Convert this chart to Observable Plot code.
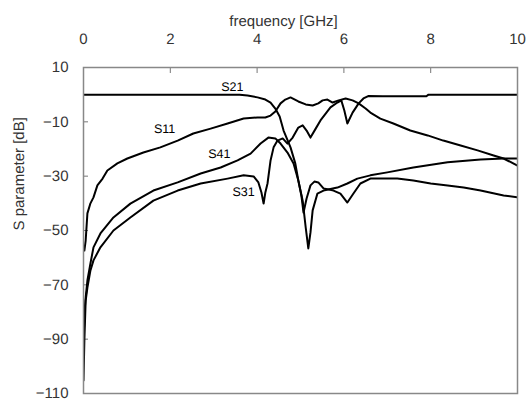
<!DOCTYPE html>
<html>
<head>
<meta charset="utf-8">
<script src="https://cdn.jsdelivr.net/npm/d3@7"></script>
<script src="https://cdn.jsdelivr.net/npm/@observablehq/plot@0.6"></script>
<style>
  html, body { margin: 0; padding: 0; background: #fff; }
  #chart { width: 527px; height: 407px; }
  svg text { -webkit-font-smoothing: antialiased; text-rendering: geometricPrecision; }
</style>
</head>
<body>
<div id="chart"></div>
<script>
// ---- data (frequency in GHz, level in dB) ----
const s21F  = [0, 1, 2, 3, 3.6, 3.78, 4.01, 4.19, 4.31, 4.42, 4.52, 4.61, 4.77, 4.88, 4.95, 5.02, 5.07, 5.14, 5.23, 5.32, 5.41, 5.53, 5.76, 5.92, 6.08, 6.22, 6.38, 6.61, 6.96, 7.23, 7.6, 8.0, 8.39, 8.76, 9.15, 9.68, 10];
const s21DB = [0, 0, 0, 0, 0, -0.3, -1.0, -1.8, -2.9, -5.1, -8.0, -13.2, -19.4, -25.3, -31.6, -37.1, -43.4, -38.2, -33.4, -32.0, -32.3, -34.5, -35.3, -36.4, -39.7, -36.4, -32.7, -30.9, -30.9, -30.9, -31.6, -32.7, -33.4, -34.2, -35.3, -37.1, -37.8];

const s11F  = [0.02, 0.05, 0.09, 0.16, 0.23, 0.32, 0.44, 0.55, 0.78, 1.01, 1.38, 1.77, 2.17, 2.53, 2.93, 3.32, 3.69, 4.01, 4.19, 4.31, 4.42, 4.54, 4.65, 4.77, 4.95, 5.12, 5.28, 5.41, 5.51, 5.62, 5.74, 5.88, 6.04, 6.20, 6.34, 6.50, 6.61, 6.84, 7.14, 7.53, 7.93, 8.29, 8.69, 9.08, 9.45, 9.68, 10];
const s11DB = [-57.4, -53.7, -43.7, -40.0, -37.8, -33.4, -30.9, -27.9, -25.3, -23.5, -21.3, -19.4, -16.9, -14.3, -12.5, -10.6, -8.8, -8.4, -8.4, -7.7, -6.2, -3.2, -1.8, -1.0, -2.5, -3.6, -4.0, -3.2, -2.1, -1.8, -2.9, -2.1, -1.4, -2.1, -3.2, -5.1, -6.6, -8.8, -10.6, -13.2, -15.0, -16.9, -18.7, -20.5, -22.4, -23.5, -26.1];

const s31F  = [0, 0.01, 0.02, 0.05, 0.09, 0.16, 0.23, 0.39, 0.69, 1.08, 1.61, 2.17, 2.70, 3.32, 3.69, 3.92, 4.03, 4.10, 4.15, 4.19, 4.24, 4.31, 4.38, 4.47, 4.59, 4.70, 4.82, 4.95, 5.05, 5.14, 5.23, 5.35, 5.46, 5.69, 5.85, 5.94, 6.01, 6.08, 6.20, 6.34, 6.45, 6.56, 6.90, 7.9, 7.95, 10];
const s31DB = [-105.2, -97.8, -90.5, -75.8, -71.0, -64.7, -61.0, -56.2, -50.0, -45.2, -39.0, -35.3, -32.7, -30.9, -29.7, -30.1, -32.3, -36.0, -40.1, -36.0, -32.7, -24.2, -19.4, -16.9, -16.1, -18.0, -15.8, -12.1, -11.3, -13.2, -15.8, -12.5, -9.5, -4.7, -2.9, -2.1, -5.8, -10.6, -6.6, -3.2, -1.4, -0.5, -0.6, -0.6, 0, 0];

const s41F  = [0.01, 0.02, 0.05, 0.09, 0.16, 0.23, 0.39, 0.69, 1.08, 1.61, 2.17, 2.70, 3.16, 3.55, 3.85, 4.08, 4.26, 4.42, 4.54, 4.70, 4.84, 4.95, 5.05, 5.12, 5.18, 5.23, 5.28, 5.39, 5.53, 5.85, 6.08, 6.31, 6.61, 7.0, 7.6, 8.39, 9.15, 9.68, 10];
const s41DB = [-86.8, -80.5, -74.7, -68.4, -62.1, -56.2, -51.1, -45.2, -40.1, -35.3, -32.3, -29.0, -26.8, -24.2, -21.7, -18.0, -15.8, -16.1, -18.0, -21.3, -25.3, -31.6, -39.0, -48.9, -56.6, -50.7, -42.6, -36.4, -35.3, -34.2, -32.7, -30.9, -29.7, -28.6, -26.8, -24.9, -23.9, -23.5, -23.5];

const seriesNames = ["S11", "S21", "S31", "S41"];
const labelF  = [1.87, 3.43, 3.69, 3.13];
const labelDB = [-12.8, 3.0, -36.0, -21.7];

const xTicks = [0, 2, 4, 6, 8, 10];
const yTicks = [10, -10, -30, -50, -70, -90, -110];

// ---- build tidy table ----
const table = [];
const add = (name, F, DB) => F.forEach((f, i) => table.push({series: name, f, db: DB[i]}));
add("S11", s11F, s11DB);
add("S21", s21F, s21DB);
add("S31", s31F, s31DB);
add("S41", s41F, s41DB);
const labels = seriesNames.map((n, i) => ({name: n, f: labelF[i], db: labelDB[i]}));

const font = "Liberation Sans, Arial, sans-serif";

const chart = Plot.plot({
  width: 527,
  height: 407,
  marginTop: 67,
  marginBottom: 14,
  marginLeft: 83,
  marginRight: 10,
  style: {fontFamily: font, fontSize: "15px", color: "#333", background: "#fff"},
  x: {domain: [0, 10], ticks: xTicks},
  y: {domain: [-110, 10], ticks: yTicks},
  marks: [
    // tick labels
    Plot.axisX(xTicks, {anchor: "top", tickSize: 0, tickPadding: 24, label: null, fill: "#333", fontSize: 15}),
    Plot.axisY(yTicks, {anchor: "left", tickSize: 0, tickPadding: 15, label: null, fill: "#333", fontSize: 15}),
    // inward tick marks
    Plot.axisX(xTicks, {anchor: "top", tickSize: 5, dy: 5, text: null, label: null, stroke: "#777"}),
    Plot.axisY(yTicks, {anchor: "left", tickSize: 5, dx: 5, text: null, label: null, stroke: "#777"}),
    // axis titles
    Plot.text(["frequency [GHz]"], {frameAnchor: "top", dy: -52, dx: -17, fontSize: 15, fill: "#333"}),
    Plot.text(["S parameter [dB]"], {frameAnchor: "left", rotate: -90, dx: -64, fontSize: 15, fill: "#333"}),
    // curves
    Plot.line(table, {x: "f", y: "db", z: "series", stroke: "#000", strokeWidth: 2, clip: true}),
    // curve labels
    Plot.text(labels, {x: "f", y: "db", text: "name", fontSize: 12.5, fill: "#000"}),
    Plot.frame({stroke: "#888", strokeWidth: 1.5})
  ]
});
document.getElementById("chart").appendChild(chart);
</script>
</body>
</html>
